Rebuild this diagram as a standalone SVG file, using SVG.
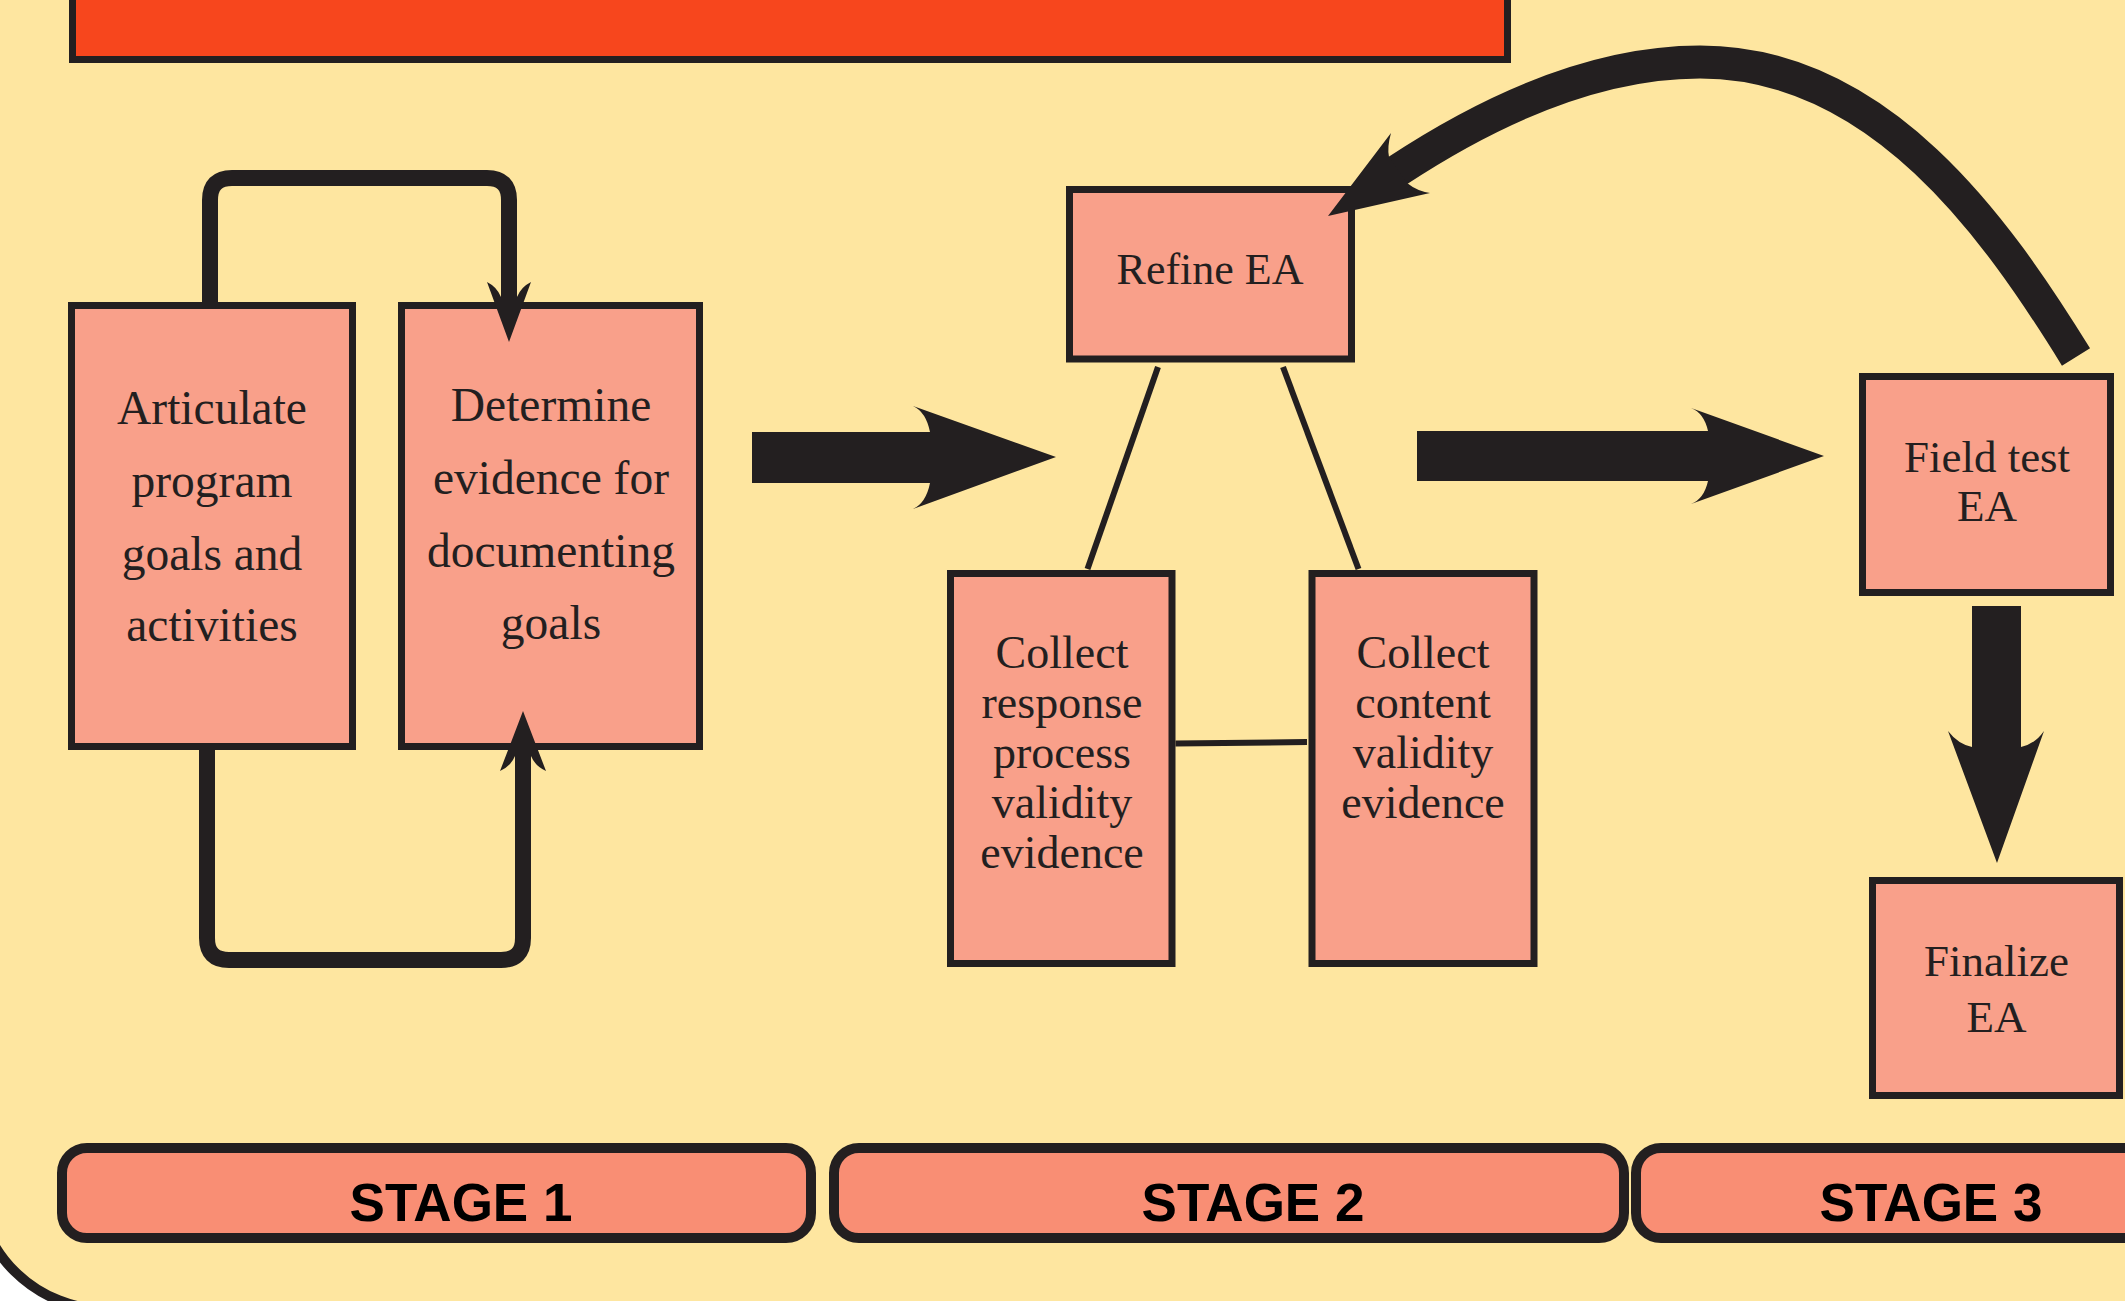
<svg xmlns="http://www.w3.org/2000/svg" width="2125" height="1301" viewBox="0 0 2125 1301">
<style>
.box{fill:#F9A08A;stroke:#231F20;stroke-width:7}
.lbl{font-family:"Liberation Serif","Times New Roman",serif;fill:#231F20;text-anchor:middle}
.stage{fill:#F98E74;stroke:#231F20;stroke-width:10}
.stxt{font-family:"Liberation Sans",Arial,sans-serif;font-weight:bold;font-size:53px;fill:#000;text-anchor:middle}
.dark{fill:#231F20}
.line{stroke:#231F20;fill:none}
</style>
<rect x="0" y="0" width="2125" height="1301" fill="#FFFFFF"/>
<rect id="panel" x="-23.5" y="-200" width="2300" height="1509.4" rx="130" fill="#FEE6A0" stroke="#231F20" stroke-width="10"/>
<rect id="header" x="72.5" y="-50" width="1435" height="109.5" fill="#F7461D" stroke="#231F20" stroke-width="7"/>

<g id="articulate">
  <rect class="box" x="71.5" y="305.5" width="281" height="441"/>
  <text class="lbl" font-size="47.5"><tspan x="212" y="424">Articulate</tspan><tspan x="212" y="497">program</tspan><tspan x="212" y="570">goals and</tspan><tspan x="212" y="641">activities</tspan></text>
</g>
<g id="determine">
  <rect class="box" x="401.5" y="305.5" width="298" height="441"/>
  <text class="lbl" font-size="47.5"><tspan x="551" y="421">Determine</tspan><tspan x="551" y="494">evidence for</tspan><tspan x="551" y="567">documenting</tspan><tspan x="551" y="639">goals</tspan></text>
</g>
<g id="refine">
  <rect class="box" x="1069.5" y="189.5" width="282" height="169.5"/>
  <text class="lbl" font-size="44" x="1210" y="284">Refine EA</text>
</g>
<g id="collect-response">
  <rect class="box" x="950.5" y="573.5" width="221.5" height="390"/>
  <text class="lbl" font-size="46"><tspan x="1062" y="668">Collect</tspan><tspan x="1062" y="718">response</tspan><tspan x="1062" y="768">process</tspan><tspan x="1062" y="818">validity</tspan><tspan x="1062" y="868">evidence</tspan></text>
</g>
<g id="collect-content">
  <rect class="box" x="1312" y="573.5" width="222" height="390"/>
  <text class="lbl" font-size="46"><tspan x="1423" y="668">Collect</tspan><tspan x="1423" y="718">content</tspan><tspan x="1423" y="768">validity</tspan><tspan x="1423" y="818">evidence</tspan></text>
</g>
<g id="field-test">
  <rect class="box" x="1862.5" y="376.5" width="248" height="216"/>
  <text class="lbl" font-size="45"><tspan x="1987" y="472">Field test</tspan><tspan x="1987" y="521">EA</tspan></text>
</g>
<g id="finalize">
  <rect class="box" x="1872.5" y="880.5" width="247" height="215"/>
  <text class="lbl" font-size="45"><tspan x="1996.5" y="976">Finalize</tspan><tspan x="1996.5" y="1032">EA</tspan></text>
</g>

<g id="connectors">
  <!-- stage 1 loops -->
  <path class="line" stroke-width="16" d="M210,302 V200 Q210,178 232,178 H487 Q509,178 509,200 V300"/>
  <path class="dark" d="M509,342 L487,282 Q497,287 501,297 L517,297 Q521,287 531,282 Z"/>
  <path class="line" stroke-width="16" d="M207,750 V938 Q207,960 229,960 H501 Q523,960 523,938 V754"/>
  <path class="dark" d="M523,711 L500,771 Q511,766 515,756 L531,756 Q535,766 546,771 Z"/>
  <!-- big arrows -->
  <path class="dark" d="M752,432 H930 Q926,412 913,406 L1056,457 L913,509 Q926,503 930,483 H752 Z"/>
  <path class="dark" d="M1417,431 H1708 Q1704,413 1691,408 L1824,456 L1691,504 Q1704,499 1708,481 H1417 Z"/>
  <path class="dark" d="M1972,606 V747 Q1958,744 1948,731 L1997,863 L2044,731 Q2035,744 2021,747 V606 Z"/>
  <!-- curved feedback arrow -->
  <path class="line" stroke-width="33" d="M1397,171 C1482,115 1590,62 1700,62 C1880,62 1997,229 2076,357"/>
  <path class="dark" d="M1328,216 L1391,133 Q1387,147 1389,157 L1407,183 Q1417,191 1430,193 Z"/>
  <!-- stage 2 thin lines -->
  <path class="line" stroke-width="6" d="M1158,367 L1087.5,569"/>
  <path class="line" stroke-width="6" d="M1283,367 L1358.5,569"/>
  <path class="line" stroke-width="6" d="M1175.5,743.5 L1307,742"/>
</g>

<g id="stage1">
  <rect class="stage" x="62" y="1148" width="749" height="90" rx="25"/>
  <text class="stxt" x="461" y="1221">STAGE 1</text>
</g>
<g id="stage2">
  <rect class="stage" x="834" y="1148" width="790" height="90" rx="25"/>
  <text class="stxt" x="1253" y="1221">STAGE 2</text>
</g>
<g id="stage3">
  <rect class="stage" x="1636" y="1148" width="600" height="90" rx="25"/>
  <text class="stxt" x="1931" y="1221">STAGE 3</text>
</g>
</svg>
